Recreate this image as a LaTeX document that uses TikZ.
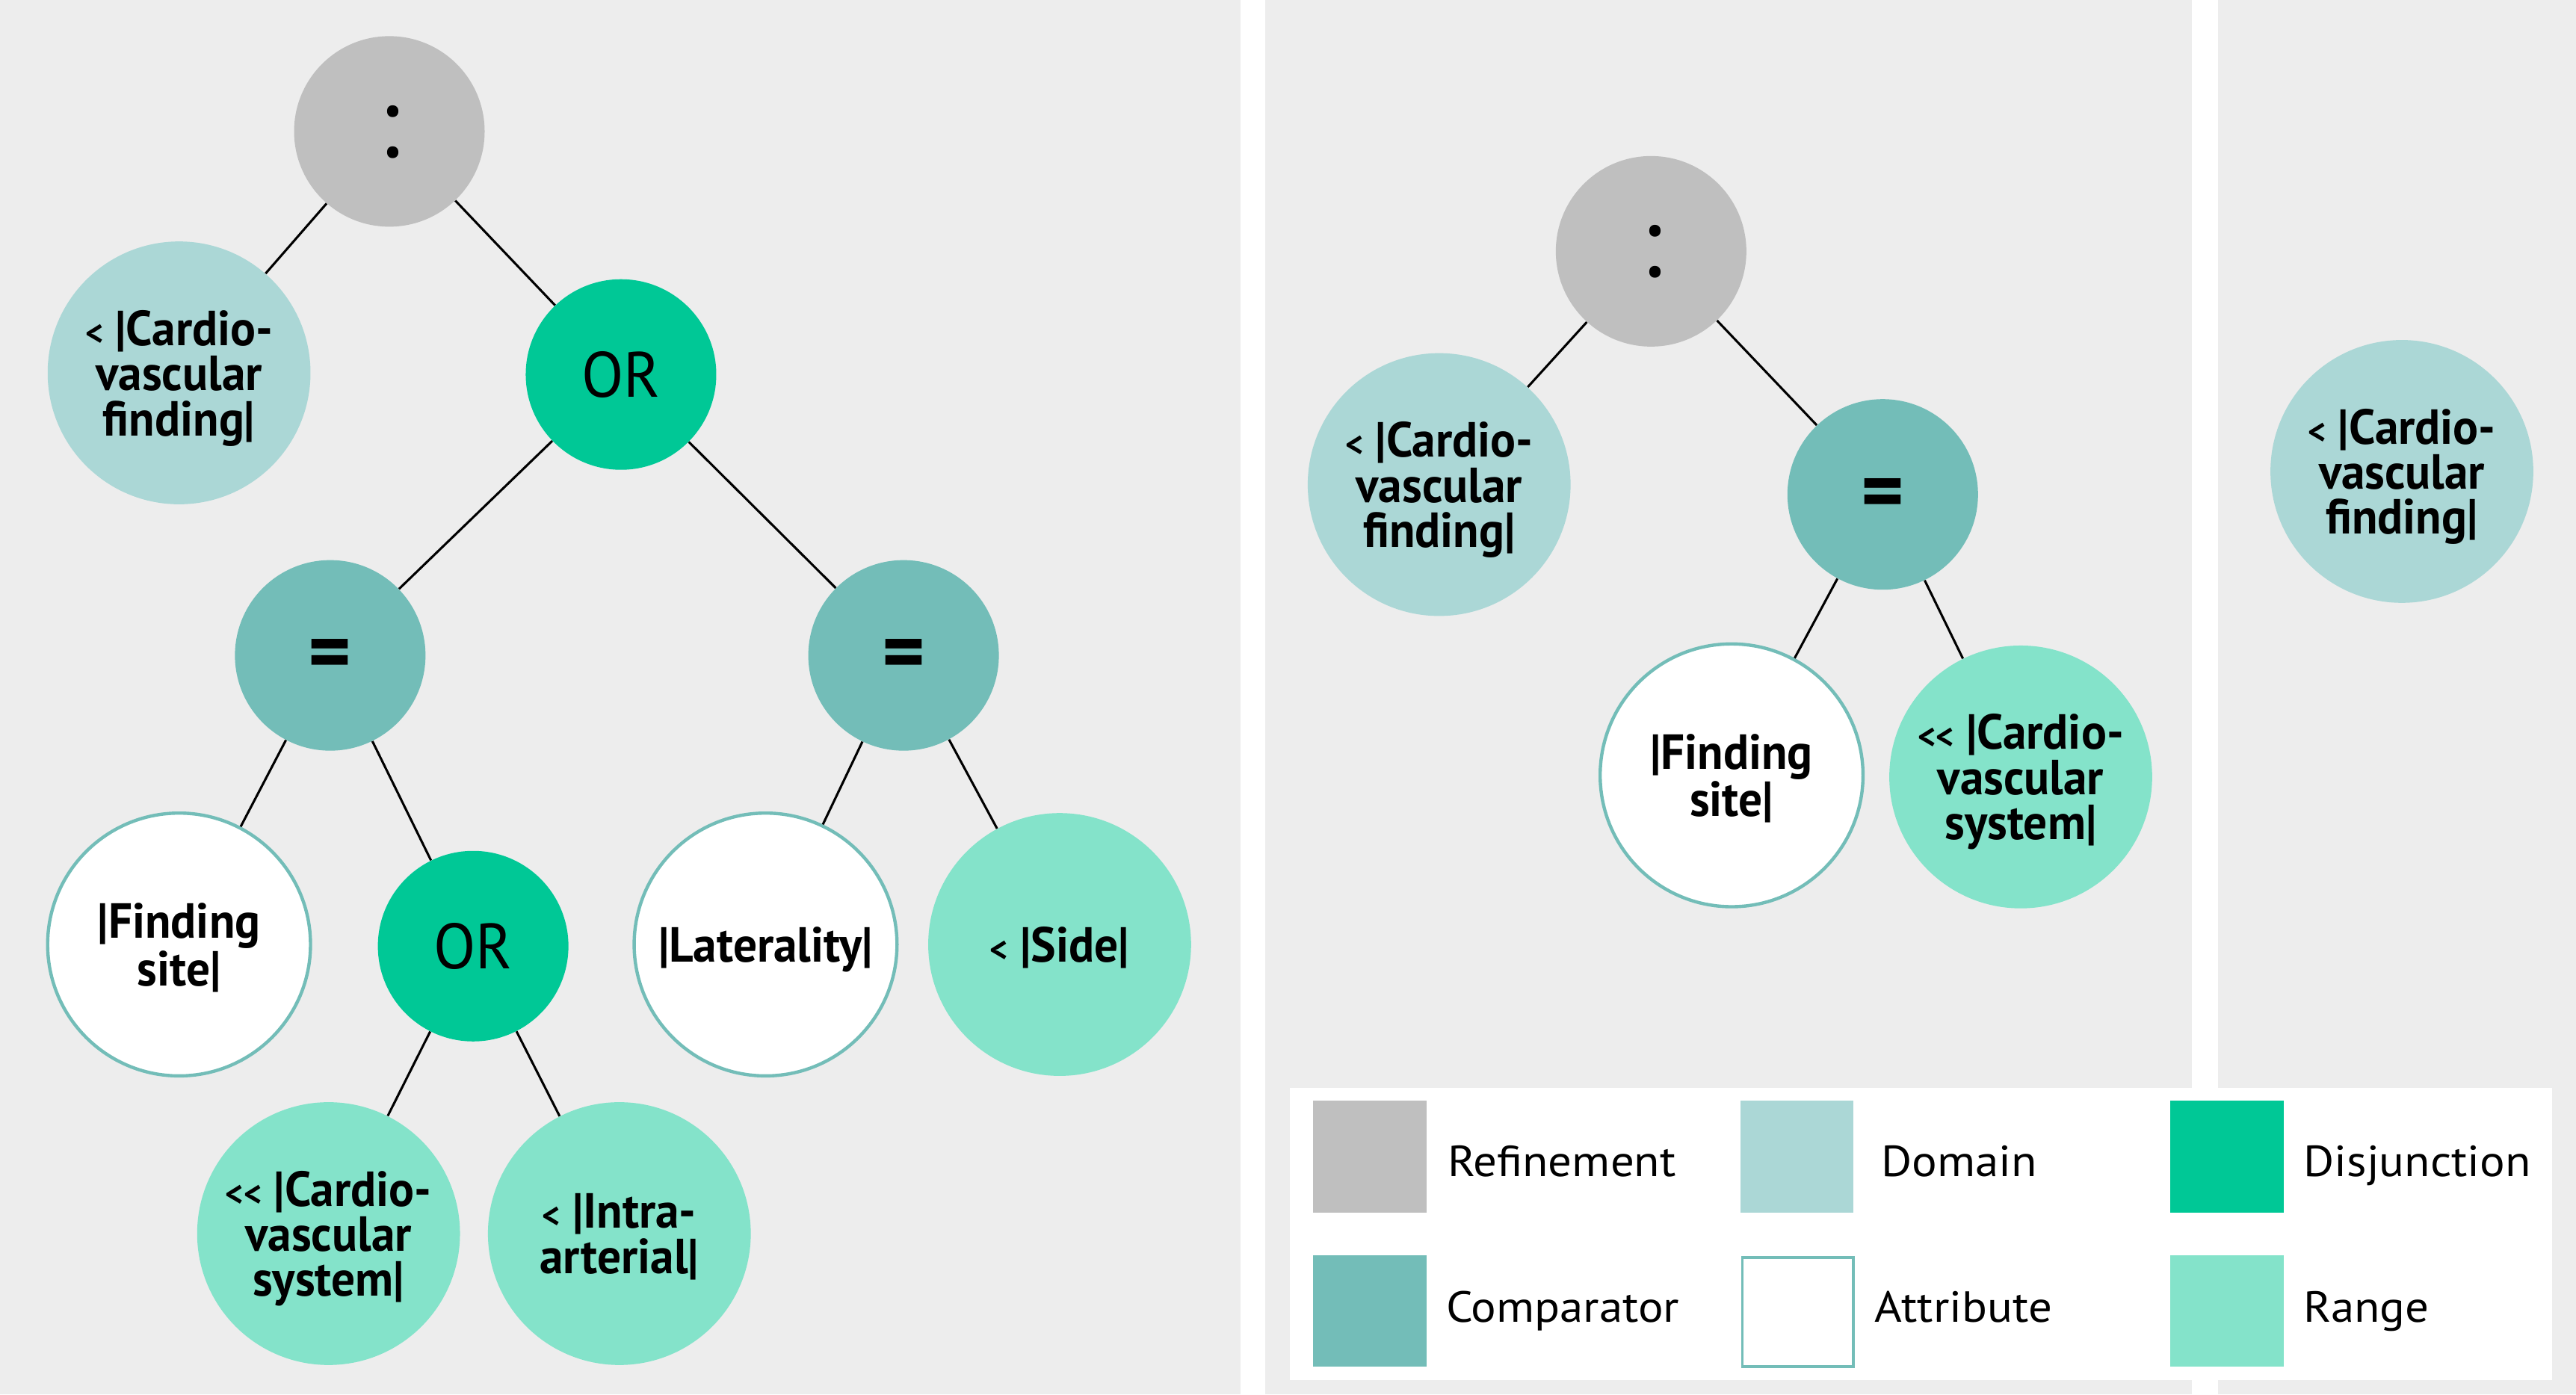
\documentclass[tikz,border=0pt]{standalone}
\usepackage{fontspec}
\setmainfont{PT Sans}
\newfontfamily\nodefont[FakeStretch=0.96]{PT Sans}
\newfontfamily\legfont[FakeStretch=1.08]{PT Sans}
\definecolor{bggray}{HTML}{EDEDED}
\definecolor{cgray}{HTML}{BFBFBF}
\definecolor{cdomain}{HTML}{ABD7D6}
\definecolor{cdisj}{HTML}{00C896}
\definecolor{ccomp}{HTML}{73BDB8}
\definecolor{crange}{HTML}{84E3CA}
\newcommand{\ltsign}{{\fontsize{22}{22}\selectfont<}}
\newcommand{\eqsign}{\raisebox{-6pt}{=}}
\begin{document}
\begin{tikzpicture}[x=1pt,y=-1pt,
  basenode/.style={circle, inner sep=0pt, align=center, text depth=0pt,
    font=\nodefont\bfseries\fontsize{30}{27.5}\selectfont},
  bignode/.style={basenode, minimum size=160pt},
  opnode/.style={basenode, minimum size=116pt},
  refinenode/.style={opnode, fill=cgray, font=\nodefont\fontsize{62}{62}\selectfont},
  domnode/.style={bignode, fill=cdomain},
  attrnode/.style={bignode, fill=white, draw=ccomp, line width=2pt},
  rangenode/.style={bignode, fill=crange},
  disjnode/.style={opnode, fill=cdisj, font=\nodefont\fontsize{39}{39}\selectfont},
  compnode/.style={opnode, fill=ccomp, font=\nodefont\bfseries\fontsize{52}{52}\selectfont},
  link/.style={line width=1.4pt, black},
  swatch/.style={rectangle, inner sep=0pt, minimum width=69pt, minimum height=68pt, anchor=north west},
  legtext/.style={anchor=base west, inner sep=0pt, font=\legfont\fontsize{26.5}{26.5}\selectfont}
]
\useasboundingbox (0,0) rectangle (1568,849);
\fill[white] (0,0) rectangle (1568,849);
\fill[bggray] (0,0) rectangle (755,849);
\fill[bggray] (770,0) rectangle (1334,849);
\fill[bggray] (1350,0) rectangle (1568,849);

% left panel
\node[refinenode] (r1) at (237,80) {:};
\node[domnode] (d1) at (109,227) {\ltsign{} |Cardio-\\vascular\\finding|};
\node[disjnode] (or1) at (378,228) {OR};
\node[compnode] (eq1) at (201,399) {\eqsign};
\node[compnode] (eq2) at (550,399) {\eqsign};
\node[attrnode] (a1) at (109,575) {|Finding\\site|};
\node[disjnode] (or2) at (288,576) {OR};
\node[attrnode] (a2) at (466,575) {|Laterality|};
\node[rangenode] (rg1) at (645,575) {\ltsign{} |Side|};
\node[rangenode] (rg2) at (200,751) {\ltsign\ltsign{} |Cardio-\\vascular\\system|};
\node[rangenode] (rg3) at (377,751) {\ltsign{} |Intra-\\arterial|};

\draw[link] (r1) -- (d1);
\draw[link] (r1) -- (or1);
\draw[link] (or1) -- (eq1);
\draw[link] (or1) -- (eq2);
\draw[link] (eq1) -- (a1);
\draw[link] (eq1) -- (or2);
\draw[link] (or2) -- (rg2);
\draw[link] (or2) -- (rg3);
\draw[link] (eq2) -- (a2);
\draw[link] (eq2) -- (rg1);

% middle panel
\node[refinenode] (r2) at (1005,153) {:};
\node[domnode] (d2) at (876,295) {\ltsign{} |Cardio-\\vascular\\finding|};
\node[compnode] (eq3) at (1146,301) {\eqsign};
\node[attrnode] (a3) at (1054,472) {|Finding\\site|};
\node[rangenode] (rg4) at (1230,473) {\ltsign\ltsign{} |Cardio-\\vascular\\system|};

\draw[link] (r2) -- (d2);
\draw[link] (r2) -- (eq3);
\draw[link] (eq3) -- (a3);
\draw[link] (eq3) -- (rg4);

% right panel
\node[domnode] (d3) at (1462,287) {\ltsign{} |Cardio-\\vascular\\finding|};

% legend
\node[rectangle, fill=white, inner sep=0pt, minimum width=768pt, minimum height=178pt, anchor=north west] (legend) at (785,662) {};
\node[swatch, fill=cgray] (s1) at (799,670) {};
\node[swatch, fill=cdomain] (s2) at (1059,670) {};
\node[swatch, fill=cdisj] (s3) at (1321,670) {};
\node[swatch, fill=ccomp] (s4) at (799,764) {};
\node[swatch, fill=white, draw=ccomp, line width=1.6pt, minimum width=67.4pt, minimum height=66.4pt] (s5) at (1059.8,764.8) {};
\node[swatch, fill=crange] (s6) at (1321,764) {};
\node[legtext] (l1) at (881,716) {Refinement};
\node[legtext] (l2) at (1145,716) {Domain};
\node[legtext] (l3) at (1402,716) {Disjunction};
\node[legtext] (l4) at (880,805) {Comparator};
\node[legtext] (l5) at (1141,805) {Attribute};
\node[legtext] (l6) at (1402,805) {Range};
\end{tikzpicture}
\end{document}
